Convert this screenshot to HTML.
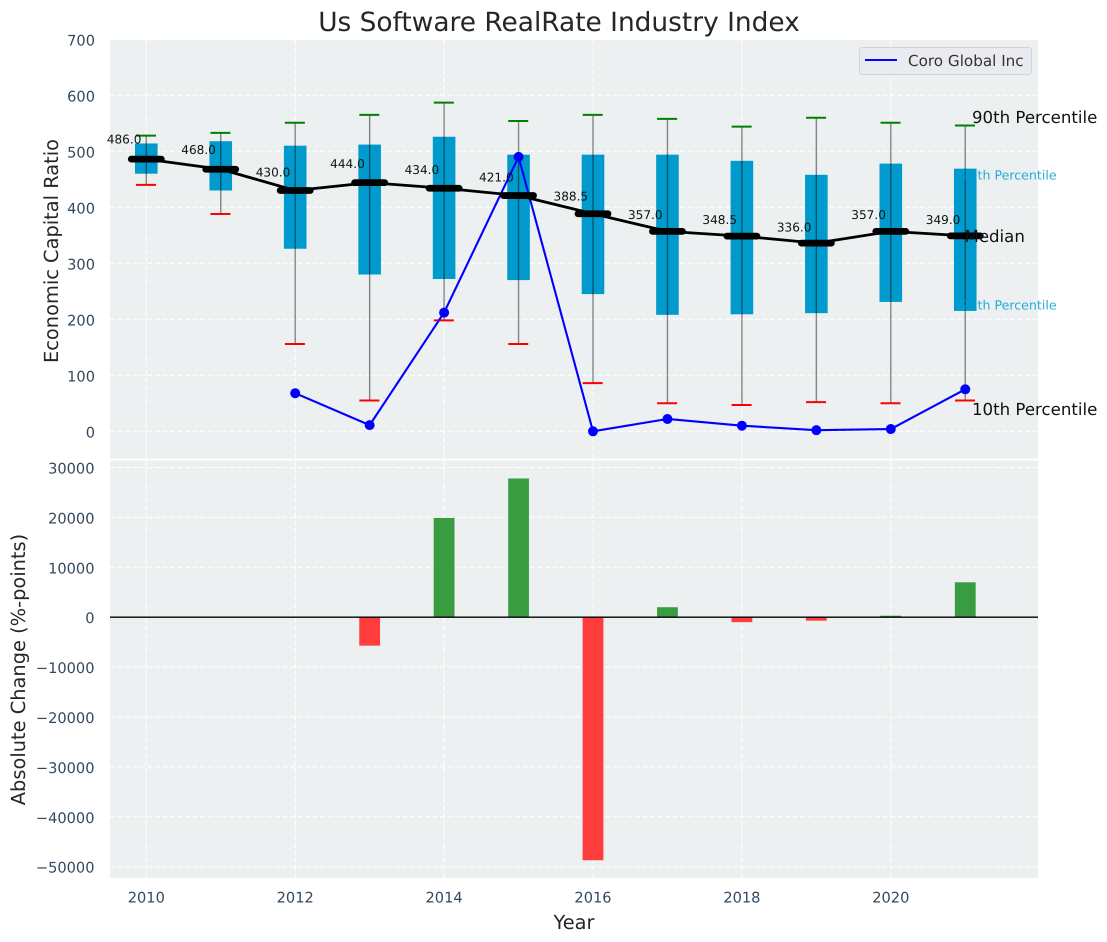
<!DOCTYPE html>
<html lang="en">
<head>
<meta charset="utf-8">
<title>Us Software RealRate Industry Index</title>
<style>
html,body{margin:0;padding:0;background:#fff;width:1107px;height:942px;overflow:hidden}
svg{display:block;font-family:"DejaVu Sans","Liberation Sans",sans-serif;text-rendering:geometricPrecision}
</style>
</head>
<body>
<svg id="chart" xmlns="http://www.w3.org/2000/svg" width="1107" height="942" viewBox="0 0 1107 942">
  <rect x="110" y="40" width="928" height="418.5" fill="#ecf0f1"/>
  <rect x="110" y="460.5" width="928" height="417.5" fill="#ecf0f1"/>
  <g id="grid" stroke="#fff" stroke-width="1.1" stroke-dasharray="5 2.5" opacity="0.95"></g>
  <g id="boxes"></g>
  <g id="whiskers"></g>
  <g id="company"></g>
  <g id="medians"></g>
  <g id="values"></g>
  <g id="annotations">
    <text x="961.5" y="179.5" font-size="12.6" fill="#00a0d0" opacity="0.85">75th Percentile</text>
    <text x="961.5" y="309.5" font-size="12.6" fill="#00a0d0" opacity="0.85">25th Percentile</text>
    <text x="964.5" y="242" font-size="16.6" fill="#111">Median</text>
  </g>
  <g id="bars"></g>
  <line x1="110" x2="1038" y1="617.2" y2="617.2" stroke="#000" stroke-width="1.3"/>
  <g id="ticks" font-size="14.6" fill="#34495e"></g>
  <text x="559" y="31" text-anchor="middle" font-size="26.4" fill="#262626">Us Software RealRate Industry Index</text>
  <text transform="translate(58,251) rotate(-90)" text-anchor="middle" font-size="19.4" fill="#262626">Economic Capital Ratio</text>
  <text transform="translate(25,669.5) rotate(-90)" text-anchor="middle" font-size="19.4" fill="#262626">Absolute Change (%-points)</text>
  <text x="574" y="929" text-anchor="middle" font-size="19.4" fill="#262626">Year</text>
  <text x="972" y="123" font-size="16.6" fill="#111">90th Percentile</text>
  <text x="972" y="415" font-size="16.6" fill="#111">10th Percentile</text>
  <g>
    <rect x="859.5" y="47.5" width="172" height="27" rx="3" fill="#e9ebf1" stroke="#d2d3d8" stroke-width="1"/>
    <line x1="865" x2="897" y1="60" y2="60" stroke="#0000ff" stroke-width="2"/>
    <text x="908" y="66" font-size="15.2" fill="#333">Coro Global Inc</text>
  </g>
</svg>
<script>
const years = [2010, 2011, 2012, 2013, 2014, 2015, 2016, 2017, 2018, 2019, 2020, 2021];
const p90 = [528, 533, 551, 565, 587, 554, 565, 558, 544, 560, 551, 546];
const p75 = [514, 518, 510, 512, 526, 494, 494, 494, 483, 458, 478, 469];
const median = [486, 468, 430, 444, 434, 421, 388.5, 357, 348.5, 336, 357, 349];
const p25 = [460, 430, 326, 280, 272, 270, 245, 208, 209, 211, 231, 215];
const p10 = [440, 388, 156, 55, 198, 156, 86, 50, 47, 52, 50, 55];
const companyYears = [2012, 2013, 2014, 2015, 2016, 2017, 2018, 2019, 2020, 2021];
const companyValues = [68, 11, 212, 490, 0, 22, 10, 2, 4, 75];
const changeYears = [2013, 2014, 2015, 2016, 2017, 2018, 2019, 2020, 2021];
const changeValues = [-5700, 19900, 27800, -48700, 2000, -1000, -700, 300, 7000];
const xTicks = [2010, 2012, 2014, 2016, 2018, 2020];
const topTicks = [0, 100, 200, 300, 400, 500, 600, 700];
const bottomTicks = [-50000, -40000, -30000, -20000, -10000, 0, 10000, 20000, 30000];

const xScale = v => 146.3 + (v - 2010) * 74.45;
const yTop = v => 431.3 - v * 0.56;
const yBottom = v => 617.2 - v * 0.00499;
const NS = 'http://www.w3.org/2000/svg';

function make(parentId, tag, attrs, text) {
  const el = document.createElementNS(NS, tag);
  for (const k in attrs) el.setAttribute(k, attrs[k]);
  if (text !== undefined) el.textContent = text;
  document.getElementById(parentId).appendChild(el);
  return el;
}

xTicks.forEach(t => {
  const x = xScale(t);
  const top = make('grid', 'line', {x1: x, x2: x, y1: 40, y2: 458.5});
  
  
  const bottom = make('grid', 'line', {x1: x, x2: x, y1: 460.5, y2: 878});
  
  
  const label = make('ticks', 'text', {x: x, y: 902.5, 'text-anchor': 'middle'}, String(t));
  
  
});

topTicks.forEach(t => {
  const y = yTop(t);
  const line = make('grid', 'line', {x1: 110, x2: 1038, y1: y, y2: y});
  
  
  const label = make('ticks', 'text', {x: 95, y: y + 6, 'text-anchor': 'end'}, String(t));
  
  
});

bottomTicks.forEach(t => {
  const y = yBottom(t);
  const line = make('grid', 'line', {x1: 110, x2: 1038, y1: y, y2: y});
  
  
  const text = t < 0 ? '\u2212' + Math.abs(t) : String(t);
  const label = make('ticks', 'text', {x: 94.5, y: y + 6, 'text-anchor': 'end'}, text);
  
  
});

years.forEach((yr, i) => {
  const x = xScale(yr);
  const box = make('boxes', 'rect', {
    x: x - 11.3, y: yTop(p75[i]), width: 22.6,
    height: yTop(p25[i]) - yTop(p75[i]), fill: '#009bcc'
  });
  
  

  const whisker = make('whiskers', 'line', {
    x1: x, x2: x, y1: yTop(p10[i]), y2: yTop(p90[i]),
    stroke: '#000', 'stroke-opacity': 0.45, 'stroke-width': 1.4
  });
  
  

  const capHigh = make('whiskers', 'line', {
    x1: x - 10.3, x2: x + 9.7, y1: yTop(p90[i]), y2: yTop(p90[i]),
    stroke: '#008000', 'stroke-width': 2
  });
  
  

  const capLow = make('whiskers', 'line', {
    x1: x - 10.3, x2: x + 9.7, y1: yTop(p10[i]), y2: yTop(p10[i]),
    stroke: '#ff0000', 'stroke-width': 2
  });
  
  
});

const companyLine = make('company', 'polyline', {
  points: companyYears.map((yr, i) => xScale(yr) + ',' + yTop(companyValues[i])).join(' '),
  fill: 'none', stroke: '#0000ff', 'stroke-width': 2.1, 'stroke-linejoin': 'round'
});



companyYears.forEach((yr, i) => {
  const dot = make('company', 'circle', {cx: xScale(yr), cy: yTop(companyValues[i]), r: 5, fill: '#0000ff'});
  
  
});

const medianLine = make('medians', 'polyline', {
  points: years.map((yr, i) => xScale(yr) + ',' + yTop(median[i])).join(' '),
  fill: 'none', stroke: '#000', 'stroke-width': 2.8, 'stroke-linejoin': 'round'
});



years.forEach((yr, i) => {
  const x = xScale(yr);
  const y = yTop(median[i]);
  const seg = make('medians', 'line', {
    x1: x - 15, x2: x + 15, y1: y, y2: y,
    stroke: '#000', 'stroke-width': 6.8, 'stroke-linecap': 'round'
  });
  
  
  const label = make('values', 'text', {x: x - 39.5, y: yTop(median[i] * 1.05) - 2.2, 'font-size': 12.1, fill: '#111'}, median[i].toFixed(1));
  
  
});

changeYears.forEach((yr, i) => {
  const v = changeValues[i];
  const x = xScale(yr);
  const y0 = yBottom(0);
  const y1 = yBottom(v);
  const bar = make('bars', 'rect', {
    x: x - 10.4, y: Math.min(y0, y1), width: 20.8, height: Math.abs(y1 - y0),
    fill: v >= 0 ? '#3a9c40' : '#ff3d3d'
  });
  
  
});
</script>
</body>
</html>
